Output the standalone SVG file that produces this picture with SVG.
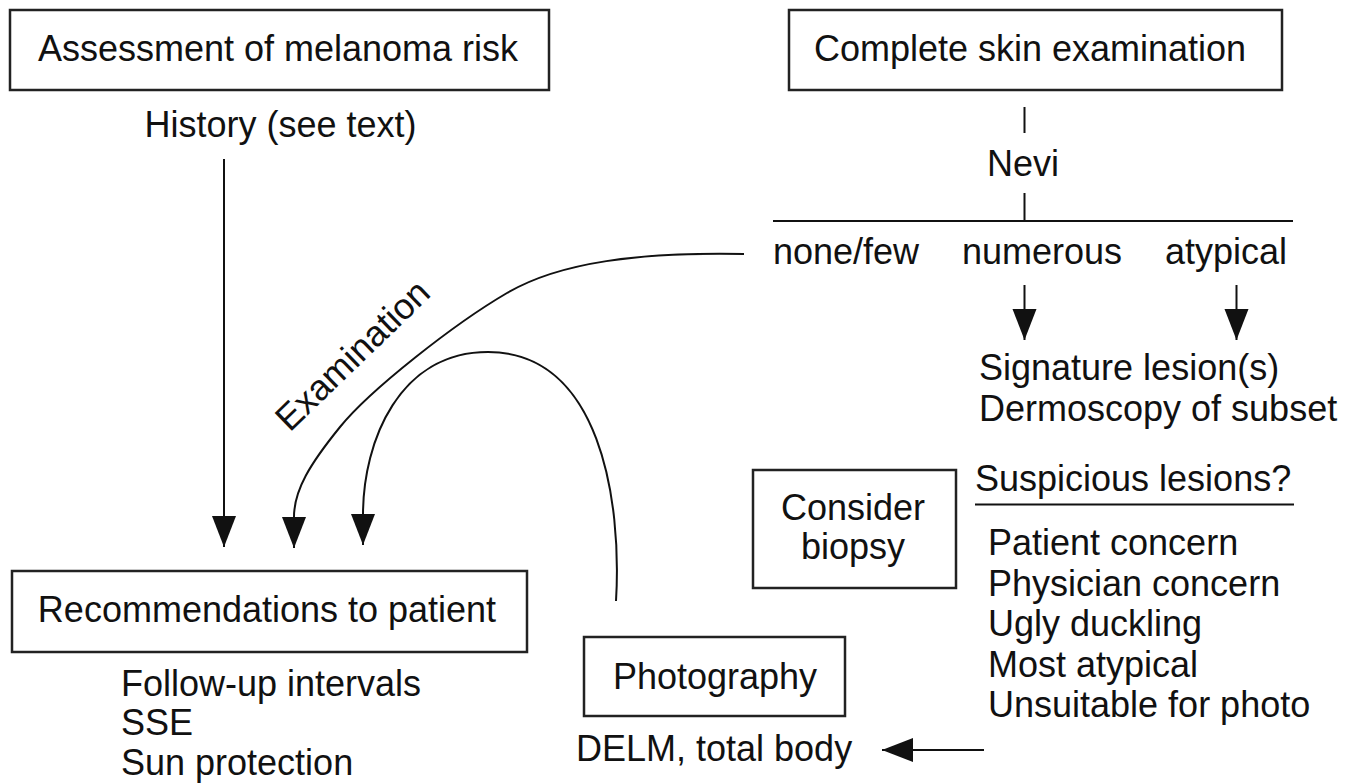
<svg xmlns="http://www.w3.org/2000/svg" width="1357" height="784" viewBox="0 0 1357 784">
<defs>
<marker id="ah" markerUnits="userSpaceOnUse" markerWidth="32" markerHeight="26" viewBox="0 0 32 26" refX="31" refY="12" orient="auto">
<path d="M0,0 L31,12 L0,24 Z" fill="#111"/>
</marker>
</defs>
<style>
text{font-family:"Liberation Sans",Arial,Helvetica,sans-serif;font-size:36px;fill:#111}
.box{fill:#fff;stroke:#222;stroke-width:2.5}
.ln{fill:none;stroke:#111;stroke-width:2}
.mid{text-anchor:middle}
</style>
<rect width="1357" height="784" fill="#fff"/>
<g id="connectors">
<line class="ln" x1="224" y1="159" x2="224" y2="547" marker-end="url(#ah)"/>
<path class="ln" d="M744,254 C640,252 560,262 507,293 C454,324 370,390 340,427 C310,464 294,490 294,517 L294,548" marker-end="url(#ah)"/>
<path class="ln" d="M616,601 C622,500 600,352 488,352 C400,352 363,440 363,515 L363,545" marker-end="url(#ah)"/>
<line class="ln" x1="1024.5" y1="107" x2="1024.5" y2="133"/>
<line class="ln" x1="1024.5" y1="193" x2="1024.5" y2="221"/>
<line class="ln" x1="773" y1="221" x2="1293" y2="221"/>
<line class="ln" x1="1024.5" y1="285" x2="1024.5" y2="340" marker-end="url(#ah)"/>
<line class="ln" x1="1236.5" y1="285" x2="1236.5" y2="340" marker-end="url(#ah)"/>
<line class="ln" x1="984" y1="750" x2="882" y2="750" marker-end="url(#ah)"/>
<line class="ln" x1="975" y1="504.5" x2="1294" y2="504.5"/>
<text class="mid" transform="translate(361,364) rotate(-44)">Examination</text>
</g>
<g id="assessment">
<rect class="box" x="10" y="10" width="539" height="80"/>
<text class="mid" x="278" y="61">Assessment of melanoma risk</text>
<text class="mid" x="280.5" y="137">History (see text)</text>
</g>
<g id="skin-exam">
<rect class="box" x="789" y="10" width="493" height="80"/>
<text class="mid" x="1030" y="61">Complete skin examination</text>
</g>
<g id="nevi">
<text class="mid" x="1023" y="176">Nevi</text>
</g>
<g id="nevi-branches">
<text x="773" y="264">none/few</text>
<text x="962" y="264">numerous</text>
<text x="1165" y="264">atypical</text>
</g>
<g id="signature">
<text x="979" y="380">Signature lesion(s)</text>
<text x="979" y="421">Dermoscopy of subset</text>
</g>
<g id="suspicious">
<text x="975" y="491">Suspicious lesions?</text>
<text x="988" y="555">Patient concern</text>
<text x="988" y="595.5">Physician concern</text>
<text x="988" y="636">Ugly duckling</text>
<text x="988" y="676.5">Most atypical</text>
<text x="988" y="717">Unsuitable for photo</text>
</g>
<g id="biopsy">
<rect class="box" x="753" y="470" width="203" height="118"/>
<text class="mid" x="853" y="520">Consider</text>
<text class="mid" x="853" y="559">biopsy</text>
</g>
<g id="recommendations">
<rect class="box" x="12" y="571" width="515" height="81"/>
<text class="mid" x="267" y="622">Recommendations to patient</text>
<text x="121" y="696">Follow-up intervals</text>
<text x="121" y="735">SSE</text>
<text x="121" y="775">Sun protection</text>
</g>
<g id="photography">
<rect class="box" x="584" y="637" width="261" height="79"/>
<text class="mid" x="715" y="689">Photography</text>
<text x="576" y="761">DELM, total body</text>
</g>
</svg>
